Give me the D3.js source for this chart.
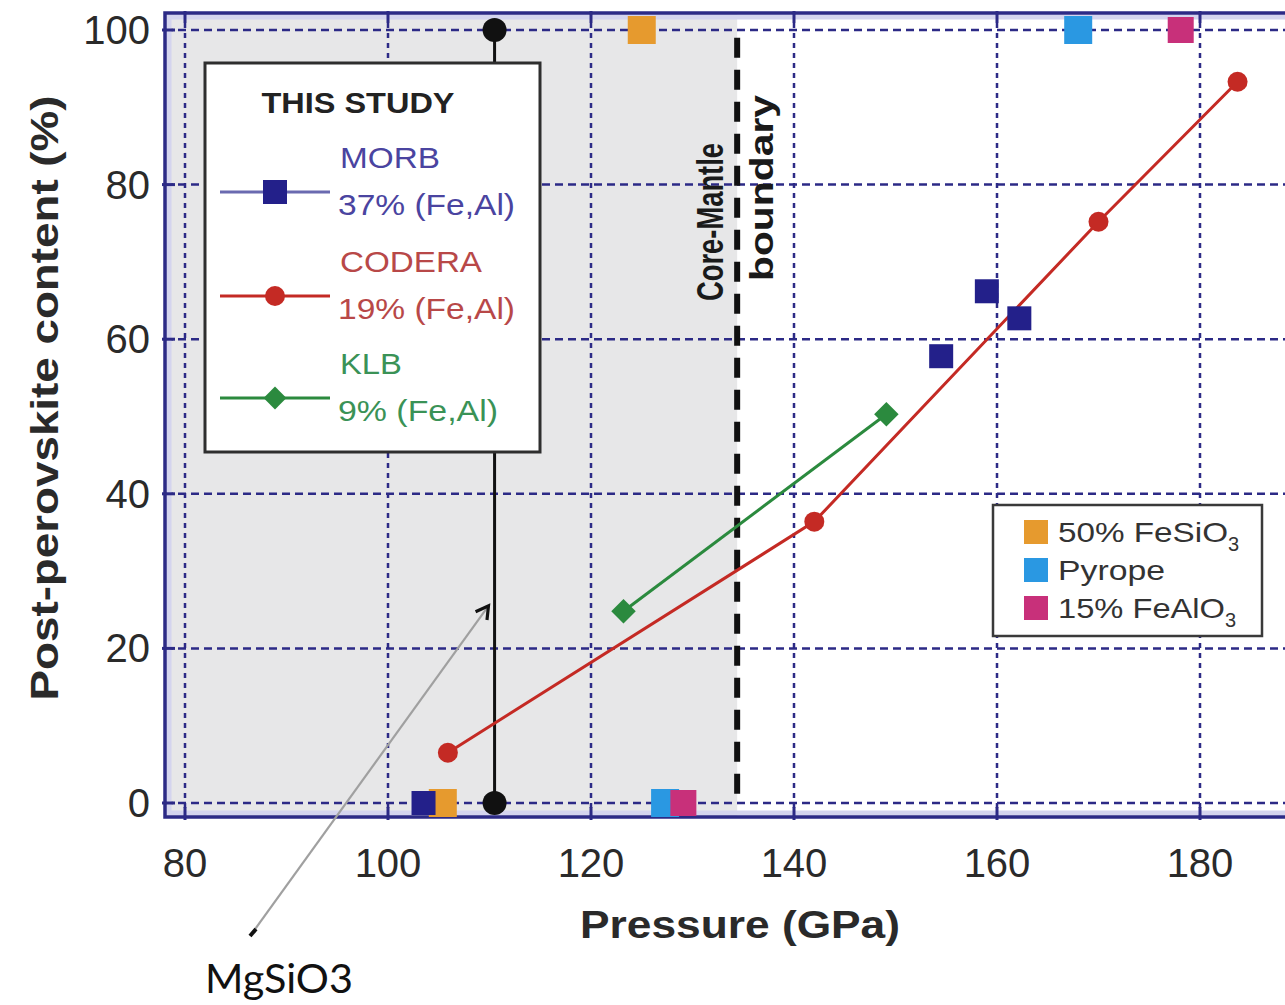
<!DOCTYPE html>
<html><head><meta charset="utf-8">
<script src="https://cdn.jsdelivr.net/npm/d3@7"></script>
<style>body{margin:0;background:#fff;} svg{display:block;}</style>
</head><body>
<svg id="c" width="1285" height="1005"></svg>
<script>
// ---- data ----
const xTicks = [80, 100, 120, 140, 160, 180];
const yTicks = [0, 20, 40, 60, 80, 100];
const morbP = [103.5, 154.5, 159.0, 162.2];
const morbV = [0, 57.8, 66.2, 62.7];
const coderaP = [105.9, 142.0, 170.0, 183.7];
const coderaV = [6.5, 36.4, 75.2, 93.3];
const klbP = [123.2, 149.1];
const klbV = [24.8, 50.3];
const fesio3P = [105.4, 125.0];
const fesio3V = [0, 100];
const pyropeP = [127.3, 168.0];
const pyropeV = [0, 100];
const fealo3P = [129.1, 178.1];
const fealo3V = [0, 100];
const mgsio3P = [110.5, 110.5];
const mgsio3V = [0, 100];
const cmbP = 134.4;
const legendStudy = ["MORB", "CODERA", "KLB"];
const legendStudySub = ["37% (Fe,Al)", "19% (Fe,Al)", "9% (Fe,Al)"];
const legendOther = ["50% FeSiO", "Pyrope", "15% FeAlO"];
const legendOtherSub = ["3", "", "3"];

// ---- scales ----
const x = d3.scaleLinear().domain([80, 180]).range([185, 1200]);
const y = d3.scaleLinear().domain([0, 100]).range([803, 30]);
const svg = d3.select("#c");
const navy = "#2c2a86";
const frame = {l: 165, t: 13, r: 1292, b: 817};
const FONT = "Liberation Sans, Arial, sans-serif";

// shaded region (up to CMB)
svg.append("rect").attr("x", frame.l).attr("y", frame.t)
  .attr("width", x(cmbP) - frame.l).attr("height", frame.b - frame.t)
  .attr("fill", "#e7e7e8");

// grid
const g = svg.append("g");
g.selectAll(".gx").data(xTicks).join("line")
  .attr("x1", d => x(d)).attr("x2", d => x(d)).attr("y1", frame.t).attr("y2", frame.b)
  .attr("stroke", navy).attr("stroke-width", 2.5).attr("stroke-dasharray", "5,5");
g.selectAll(".gy").data(yTicks).join("line")
  .attr("x1", frame.l).attr("x2", frame.r).attr("y1", d => y(d)).attr("y2", d => y(d))
  .attr("stroke", navy).attr("stroke-width", 2.5).attr("stroke-dasharray", "8,5");

// frame
svg.append("rect").attr("x", frame.l + 4).attr("y", frame.t + 4)
  .attr("width", frame.r - frame.l - 8).attr("height", frame.b - frame.t - 8)
  .attr("fill", "none").attr("stroke", "#d4d4ee").attr("stroke-width", 5);
svg.append("rect").attr("x", frame.l).attr("y", frame.t)
  .attr("width", frame.r - frame.l).attr("height", frame.b - frame.t)
  .attr("fill", "none").attr("stroke", navy).attr("stroke-width", 3.5);
// frame ticks
svg.selectAll(".tx").data(xTicks).join("line")
  .attr("x1", d => x(d)).attr("x2", d => x(d)).attr("y1", frame.b - 10).attr("y2", frame.b + 3)
  .attr("stroke", navy).attr("stroke-width", 3);
svg.selectAll(".tx2").data(xTicks).join("line")
  .attr("x1", d => x(d)).attr("x2", d => x(d)).attr("y1", frame.t - 2).attr("y2", frame.t + 10)
  .attr("stroke", navy).attr("stroke-width", 3);
svg.selectAll(".ty").data(yTicks).join("line")
  .attr("x1", frame.l - 3).attr("x2", frame.l + 10).attr("y1", d => y(d)).attr("y2", d => y(d))
  .attr("stroke", navy).attr("stroke-width", 3);

// axis labels
svg.selectAll(".xl").data(xTicks).join("text")
  .attr("x", d => x(d)).attr("y", 877).attr("text-anchor", "middle")
  .attr("font-family", FONT).attr("font-size", 40)
  .attr("fill", "#2a2a2a").text(d => d);
svg.selectAll(".yl").data(yTicks).join("text")
  .attr("x", 150).attr("y", d => y(d) + 14).attr("text-anchor", "end")
  .attr("font-family", FONT).attr("font-size", 40)
  .attr("fill", "#2a2a2a").text(d => d);
svg.append("text").attr("x", 740).attr("y", 938).attr("text-anchor", "middle")
  .attr("font-family", FONT).attr("font-weight", "bold")
  .attr("font-size", 38).attr("fill", "#2a2a2a")
  .attr("textLength", 320).attr("lengthAdjust", "spacingAndGlyphs").text("Pressure (GPa)");
svg.append("text").attr("transform", "translate(58,398) rotate(-90)").attr("text-anchor", "middle")
  .attr("font-family", FONT).attr("font-weight", "bold")
  .attr("font-size", 38).attr("fill", "#2a2a2a")
  .attr("textLength", 605).attr("lengthAdjust", "spacingAndGlyphs").text("Post-perovskite content (%)");

// CMB dashed line and label
svg.append("line").attr("x1", x(cmbP)).attr("x2", x(cmbP)).attr("y1", y(99)).attr("y2", y(0) - 4)
  .attr("stroke", "#111").attr("stroke-width", 6).attr("stroke-dasharray", "20,12");
svg.append("text").attr("transform", `translate(${x(cmbP) - 14},222) rotate(-90)`).attr("text-anchor", "middle")
  .attr("font-family", FONT).attr("font-weight", "bold")
  .attr("font-size", 36).attr("fill", "#1a1a1a")
  .attr("textLength", 158).attr("lengthAdjust", "spacingAndGlyphs").text("Core-Mantle");
svg.append("text").attr("transform", `translate(${x(cmbP) + 36},188) rotate(-90)`).attr("text-anchor", "middle")
  .attr("font-family", FONT).attr("font-weight", "bold")
  .attr("font-size", 34).attr("fill", "#1a1a1a")
  .attr("textLength", 186).attr("lengthAdjust", "spacingAndGlyphs").text("boundary");

// MgSiO3 vertical line & circles
const line = d3.line();
svg.append("path").attr("d", line(mgsio3P.map((p, i) => [x(p), y(mgsio3V[i])])))
  .attr("stroke", "#111").attr("stroke-width", 3).attr("fill", "none");
svg.selectAll(".mg").data(mgsio3P).join("circle")
  .attr("cx", d => x(d)).attr("cy", (d, i) => y(mgsio3V[i])).attr("r", 12).attr("fill", "#111");

// other-study squares
const sq = (P, V, col, s) => svg.append("g").selectAll("rect").data(P).join("rect")
  .attr("x", d => x(d) - s / 2).attr("y", (d, i) => y(V[i]) - s / 2)
  .attr("width", s).attr("height", s).attr("fill", col);
const cOrange = "#e69a2e", cBlue = "#2a98e2", cPink = "#c8307a";
sq(fesio3P, fesio3V, cOrange, 28);
sq(pyropeP, pyropeV, cBlue, 28);
sq(fealo3P, fealo3V, cPink, 26);

// CODERA
const cRed = "#c42a24", cGreen = "#2b8a3e", cNavy = "#23208a";
svg.append("path").attr("d", line(coderaP.map((p, i) => [x(p), y(coderaV[i])])))
  .attr("stroke", cRed).attr("stroke-width", 3).attr("fill", "none");
svg.append("g").selectAll("circle").data(coderaP).join("circle")
  .attr("cx", d => x(d)).attr("cy", (d, i) => y(coderaV[i])).attr("r", 10).attr("fill", cRed);
// KLB
svg.append("path").attr("d", line(klbP.map((p, i) => [x(p), y(klbV[i])])))
  .attr("stroke", cGreen).attr("stroke-width", 3).attr("fill", "none");
svg.append("g").selectAll("path").data(klbP).join("path")
  .attr("transform", (d, i) => `translate(${x(d)},${y(klbV[i])}) rotate(45)`)
  .attr("d", d3.symbol().type(d3.symbolSquare).size(300)).attr("fill", cGreen);
// MORB
sq(morbP, morbV, cNavy, 24);

// left legend
const lg = svg.append("g");
lg.append("rect").attr("x", 205).attr("y", 63).attr("width", 335).attr("height", 389)
  .attr("fill", "#fff").attr("stroke", "#2e2e2e").attr("stroke-width", 3);
lg.append("text").attr("x", 358).attr("y", 113).attr("text-anchor", "middle")
  .attr("font-family", FONT).attr("font-weight", "bold")
  .attr("font-size", 29).attr("fill", "#222").attr("textLength", 193).attr("lengthAdjust", "spacingAndGlyphs")
  .text("THIS STUDY");
const studyCols = [cNavy, cRed, cGreen];
const studyText = ["#4a44a0", "#b84848", "#3a9256"];
const studyY = [192, 296, 398];
const nameLen = [100, 142, 62];
const subLen = [177, 177, 160];
legendStudy.forEach((name, i) => {
  const yy = studyY[i];
  lg.append("line").attr("x1", 220).attr("x2", 330).attr("y1", yy).attr("y2", yy)
    .attr("stroke", i === 0 ? "#6a6ab0" : studyCols[i]).attr("stroke-width", 3);
  if (i === 0) lg.append("rect").attr("x", 263).attr("y", yy - 12).attr("width", 24).attr("height", 24).attr("fill", cNavy);
  if (i === 1) lg.append("circle").attr("cx", 275).attr("cy", yy).attr("r", 10).attr("fill", cRed);
  if (i === 2) lg.append("path").attr("transform", `translate(275,${yy}) rotate(45)`)
    .attr("d", d3.symbol().type(d3.symbolSquare).size(260)).attr("fill", cGreen);
  lg.append("text").attr("x", 340).attr("y", yy - 24).attr("font-family", FONT)
    .attr("font-size", 29).attr("fill", studyText[i])
    .attr("textLength", nameLen[i]).attr("lengthAdjust", "spacingAndGlyphs").text(name);
  lg.append("text").attr("x", 338).attr("y", yy + 23).attr("font-family", FONT)
    .attr("font-size", 29).attr("fill", studyText[i])
    .attr("textLength", subLen[i]).attr("lengthAdjust", "spacingAndGlyphs").text(legendStudySub[i]);
});

// right legend
const rg = svg.append("g");
rg.append("rect").attr("x", 993).attr("y", 505).attr("width", 269).attr("height", 131)
  .attr("fill", "#fff").attr("stroke", "#3a3a3a").attr("stroke-width", 2.5);
const otherCols = [cOrange, cBlue, cPink];
const otherLen = [170, 107, 167];
legendOther.forEach((name, i) => {
  const yy = 532 + i * 38;
  rg.append("rect").attr("x", 1024).attr("y", yy - 12).attr("width", 24).attr("height", 24).attr("fill", otherCols[i]);
  const t = rg.append("text").attr("x", 1058).attr("y", yy + 10).attr("font-family", FONT)
    .attr("font-size", 28).attr("fill", "#333");
  t.append("tspan").attr("textLength", otherLen[i]).attr("lengthAdjust", "spacingAndGlyphs").text(name);
  if (legendOtherSub[i]) t.append("tspan").attr("dy", 9).attr("font-size", 20).text(legendOtherSub[i]);
});

// annotation
svg.append("defs").append("marker").attr("id", "ah").attr("viewBox", "0 0 10 10")
  .attr("refX", 8).attr("refY", 5).attr("markerWidth", 8).attr("markerHeight", 8)
  .attr("orient", "auto").attr("markerUnits", "strokeWidth")
  .append("path").attr("d", "M1,1 L8,5 L1,9").attr("fill", "none").attr("stroke", "#111").attr("stroke-width", 1.8);
svg.append("line").attr("x1", 253).attr("y1", 932).attr("x2", x(109.9)).attr("y2", y(25.5))
  .attr("stroke", "#a0a0a0").attr("stroke-width", 2.2).attr("marker-end", "url(#ah)");
svg.append("line").attr("x1", 250).attr("y1", 936).attr("x2", 256).attr("y2", 929)
  .attr("stroke", "#111").attr("stroke-width", 4);
svg.append("text").attr("x", 205).attr("y", 993).attr("font-family", "Lato, Open Sans, sans-serif")
  .attr("font-size", 40).attr("fill", "#111").attr("textLength", 148).attr("lengthAdjust", "spacingAndGlyphs")
  .text("MgSiO3");
</script>
</body></html>
